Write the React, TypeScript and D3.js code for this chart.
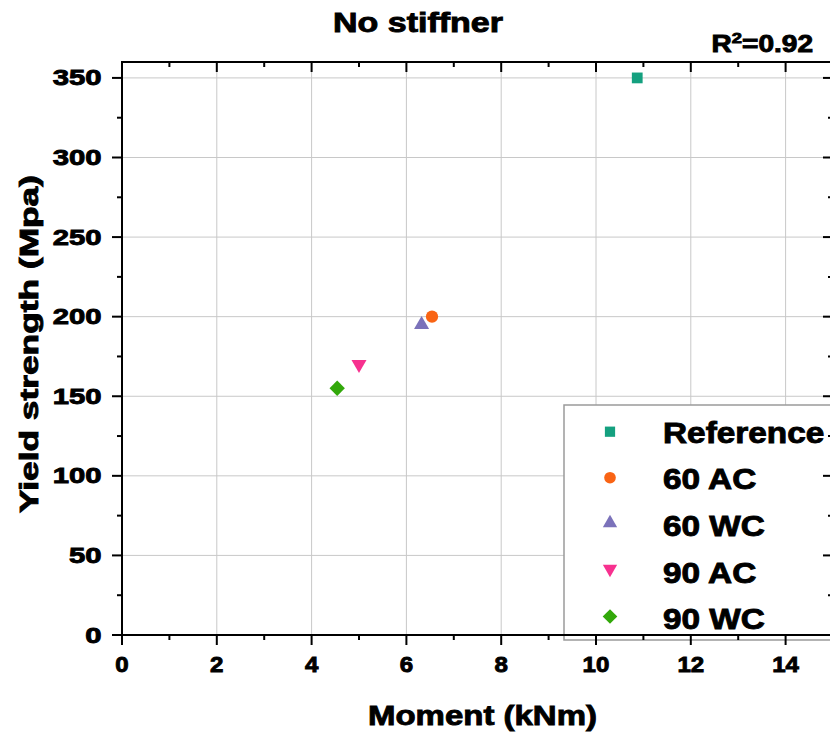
import React from "react";
import * as d3 from "d3";

const seriesNames = ["Reference", "60 AC", "60 WC", "90 AC", "90 WC"];
const momentValues = [10.87, 6.54, 6.32, 5.0, 4.54];
const strengthValues = [350, 200, 195, 170, 155];
const seriesColors = ["#14A07F", "#F96414", "#7B72BA", "#F7318F", "#32A80A"];
const seriesShapes = ["square", "circle", "triangle", "triangleDown", "diamond"];
const xTickValues = [0, 2, 4, 6, 8, 10, 12, 14];
const yTickValues = [0, 50, 100, 150, 200, 250, 300, 350];

const W = 830;
const H = 733;
const FONT = "'Liberation Sans', Arial, sans-serif";
const TS = 0.9; // text stroke thickening

function markerPath(shape: string): string {
  const sym = d3.symbol();
  if (shape === "square") return sym.type(d3.symbolSquare).size(116)() as string;
  if (shape === "circle") return sym.type(d3.symbolCircle).size(118)() as string;
  if (shape === "triangle" || shape === "triangleDown") return sym.type(d3.symbolTriangle).size(98)() as string;
  return sym.type(d3.symbolSquare).size(118)() as string;
}
function markerRotate(shape: string): number {
  if (shape === "triangleDown") return 180;
  if (shape === "diamond") return 45;
  return 0;
}

export default function App() {
  const x = d3.scaleLinear().domain([0, 15]).range([122, 833]);
  const y = d3.scaleLinear().domain([0, 360]).range([635, 62]);
  const x0 = x(0), x1 = x(15), y0 = y(0), y1 = y(360);
  const xMinor = d3.range(1, 15, 2);
  const yMinor = d3.range(25, 360, 50);

  const legendRows = seriesNames.map((n, i) => ({ n, i }));
  const legendMarkerX = 610;
  const legendTextX = 663;
  const legendMarkerY = [431.7, 477.7, 523, 569, 616.5];
  const legendBaseY = [442.7, 489.3, 536, 582.7, 629.3];

  return (
    <svg width={W} height={H} style={{ position: "absolute", left: 0, top: 0, background: "#fff" }} fontFamily={FONT}>
      <rect x={0} y={0} width={W} height={H} fill="#fff" />
      {/* grid */}
      {xTickValues.filter((v) => v > 0).map((v) => (
        <line key={"gx" + v} x1={x(v)} x2={x(v)} y1={y0} y2={y1} stroke="#c8c8c8" strokeWidth={1} />
      ))}
      {yTickValues.filter((v) => v > 0).map((v) => (
        <line key={"gy" + v} x1={x0} x2={x1} y1={y(v)} y2={y(v)} stroke="#c8c8c8" strokeWidth={1} />
      ))}

      {/* data points */}
      {seriesNames.map((n, i) => (
        <path
          key={"pt" + n}
          d={markerPath(seriesShapes[i])}
          transform={`translate(${x(momentValues[i])},${y(strengthValues[i])}) rotate(${markerRotate(seriesShapes[i])})`}
          fill={seriesColors[i]}
        />
      ))}

      {/* legend */}
      <rect x={564} y={405} width={300} height={235} fill="#fff" stroke="#9a9a9a" strokeWidth={1.5} />
      {legendRows.map(({ n, i }) => (
        <g key={"lg" + n}>
          <path
            d={markerPath(seriesShapes[i])}
            transform={`translate(${legendMarkerX},${legendMarkerY[i]}) rotate(${markerRotate(seriesShapes[i])}) scale(0.95)`}
            fill={seriesColors[i]}
          />
          <text
            transform={`translate(${legendTextX},${legendBaseY[i]}) scale(1.15,1)`}
            fontSize={29}
            fontWeight="bold"
            fill="#000"
            stroke="#000"
            strokeWidth={TS}
          >
            {n}
          </text>
        </g>
      ))}

      {/* axes frame */}
      <line x1={x0} x2={x0} y1={y1 - 1} y2={y0 + 1} stroke="#000" strokeWidth={2} />
      <line x1={x0 - 1} x2={x1} y1={y0} y2={y0} stroke="#000" strokeWidth={2} />
      <line x1={x0 - 1} x2={x1} y1={y1} y2={y1} stroke="#000" strokeWidth={2} />
      <line x1={x1} x2={x1} y1={y1} y2={y0} stroke="#000" strokeWidth={2} />

      {/* x ticks bottom (outward) and top (inward) */}
      {xTickValues.map((v) => (
        <g key={"xt" + v}>
          <line x1={x(v)} x2={x(v)} y1={y0} y2={y0 + 10} stroke="#000" strokeWidth={2} />
          <line x1={x(v)} x2={x(v)} y1={y1} y2={y1 + 10} stroke="#000" strokeWidth={2} />
          <text
            transform={`translate(${x(v)},${672}) scale(1.12,1)`}
            textAnchor="middle"
            fontSize={21.5}
            fontWeight="bold"
            stroke="#000"
            strokeWidth={TS}
          >
            {v}
          </text>
        </g>
      ))}
      {xMinor.map((v) => (
        <g key={"xm" + v}>
          <line x1={x(v)} x2={x(v)} y1={y0} y2={y0 + 5} stroke="#000" strokeWidth={2} />
          <line x1={x(v)} x2={x(v)} y1={y1} y2={y1 + 5} stroke="#000" strokeWidth={2} />
        </g>
      ))}

      {/* y ticks left (outward) and right (inward) */}
      {yTickValues.map((v) => (
        <g key={"yt" + v}>
          <line x1={x0 - 10} x2={x0} y1={y(v)} y2={y(v)} stroke="#000" strokeWidth={2} />
          <line x1={x1 - 10} x2={x1} y1={y(v)} y2={y(v)} stroke="#000" strokeWidth={2} />
          <text
            transform={`translate(${101.5},${y(v) + 7.5}) scale(1.3,1)`}
            textAnchor="end"
            fontSize={22.5}
            fontWeight="bold"
            stroke="#000"
            strokeWidth={TS}
          >
            {v}
          </text>
        </g>
      ))}
      {yMinor.map((v) => (
        <g key={"ym" + v}>
          <line x1={x0 - 5} x2={x0} y1={y(v)} y2={y(v)} stroke="#000" strokeWidth={2} />
          <line x1={x1 - 5} x2={x1} y1={y(v)} y2={y(v)} stroke="#000" strokeWidth={2} />
        </g>
      ))}

      {/* titles */}
      <text x={418} y={32} textAnchor="middle" fontSize={27} fontWeight="bold" textLength={170} lengthAdjust="spacingAndGlyphs" stroke="#000" strokeWidth={TS}>
        No stiffner
      </text>
      <text transform={`translate(813,52) scale(1.22,1)`} textAnchor="end" fontSize={23} fontWeight="bold" stroke="#000" strokeWidth={TS}>
        R<tspan dy={-9} fontSize={15}>2</tspan><tspan dy={9}>=0.92</tspan>
      </text>
      <text x={482.5} y={725} textAnchor="middle" fontSize={28} fontWeight="bold" textLength={229} lengthAdjust="spacingAndGlyphs" stroke="#000" strokeWidth={TS}>
        Moment (kNm)
      </text>
      <text
        transform={`translate(38,344) rotate(-90)`}
        textAnchor="middle"
        fontSize={26}
        fontWeight="bold"
        textLength={338}
        lengthAdjust="spacingAndGlyphs"
        stroke="#000"
        strokeWidth={TS}
      >
        Yield strength (Mpa)
      </text>
    </svg>
  );
}
